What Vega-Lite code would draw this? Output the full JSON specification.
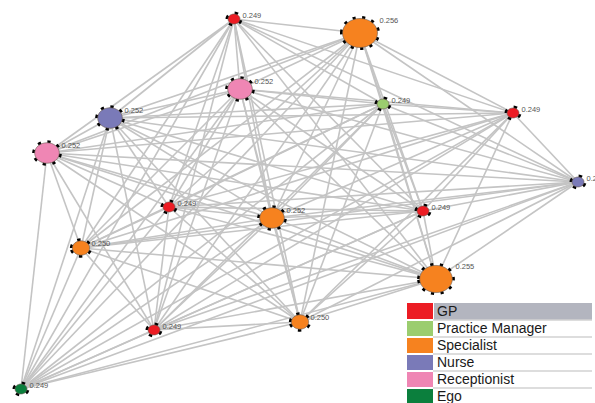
{
"$schema": "https://vega.github.io/schema/vega-lite/v6.json",
"width": 595, "height": 403, "padding": 0, "autosize": {"type": "none"},
"background": "white",
"config": {"view": {"stroke": null}},
"datasets": {
"nodes": [
{"id":1,"role":"GP","x":234,"y":19,"score":0.249},
{"id":2,"role":"Specialist","x":360,"y":33,"score":0.256},
{"id":3,"role":"Receptionist","x":240,"y":89,"score":0.252},
{"id":4,"role":"Nurse","x":110,"y":118,"score":0.252},
{"id":5,"role":"Practice Manager","x":383,"y":104,"score":0.249},
{"id":6,"role":"GP","x":513,"y":113,"score":0.249},
{"id":7,"role":"Receptionist","x":47,"y":153,"score":0.252},
{"id":8,"role":"Nurse","x":578,"y":182,"score":0.249},
{"id":9,"role":"GP","x":169,"y":207,"score":0.249},
{"id":10,"role":"Specialist","x":272,"y":218,"score":0.252},
{"id":11,"role":"GP","x":423,"y":211,"score":0.249},
{"id":12,"role":"Specialist","x":81,"y":248,"score":0.250},
{"id":13,"role":"Specialist","x":436,"y":279,"score":0.255},
{"id":14,"role":"Specialist","x":300,"y":322,"score":0.250},
{"id":15,"role":"GP","x":154,"y":330,"score":0.249},
{"id":16,"role":"Ego","x":21,"y":389,"score":0.249}
],
"edges": [
{"s":1,"t":2},{"s":1,"t":3},{"s":1,"t":4},{"s":1,"t":5},{"s":1,"t":6},{"s":1,"t":7},{"s":1,"t":8},{"s":1,"t":9},{"s":1,"t":10},{"s":1,"t":11},{"s":1,"t":12},{"s":1,"t":13},{"s":1,"t":14},{"s":1,"t":15},{"s":1,"t":16},
{"s":2,"t":3},{"s":2,"t":4},{"s":2,"t":5},{"s":2,"t":6},{"s":2,"t":7},{"s":2,"t":8},{"s":2,"t":9},{"s":2,"t":10},{"s":2,"t":11},{"s":2,"t":12},{"s":2,"t":13},{"s":2,"t":14},{"s":2,"t":15},{"s":2,"t":16},
{"s":3,"t":4},{"s":3,"t":5},{"s":3,"t":6},{"s":3,"t":7},{"s":3,"t":8},{"s":3,"t":9},{"s":3,"t":10},{"s":3,"t":11},{"s":3,"t":12},{"s":3,"t":13},{"s":3,"t":14},{"s":3,"t":15},{"s":3,"t":16},
{"s":4,"t":5},{"s":4,"t":6},{"s":4,"t":7},{"s":4,"t":8},{"s":4,"t":9},{"s":4,"t":10},{"s":4,"t":11},{"s":4,"t":12},{"s":4,"t":13},{"s":4,"t":14},{"s":4,"t":15},{"s":4,"t":16},
{"s":5,"t":6},{"s":5,"t":7},{"s":5,"t":8},{"s":5,"t":9},{"s":5,"t":10},{"s":5,"t":11},{"s":5,"t":12},{"s":5,"t":13},{"s":5,"t":14},{"s":5,"t":15},{"s":5,"t":16},
{"s":6,"t":7},{"s":6,"t":8},{"s":6,"t":9},{"s":6,"t":10},{"s":6,"t":11},{"s":6,"t":12},{"s":6,"t":13},{"s":6,"t":14},{"s":6,"t":15},{"s":6,"t":16},
{"s":7,"t":8},{"s":7,"t":9},{"s":7,"t":10},{"s":7,"t":11},{"s":7,"t":12},{"s":7,"t":13},{"s":7,"t":14},{"s":7,"t":15},{"s":7,"t":16},
{"s":8,"t":9},{"s":8,"t":10},{"s":8,"t":11},{"s":8,"t":12},{"s":8,"t":13},{"s":8,"t":14},{"s":8,"t":15},{"s":8,"t":16},
{"s":9,"t":10},{"s":9,"t":11},{"s":9,"t":12},{"s":9,"t":13},{"s":9,"t":14},{"s":9,"t":15},{"s":9,"t":16},
{"s":10,"t":11},{"s":10,"t":12},{"s":10,"t":13},{"s":10,"t":14},{"s":10,"t":15},{"s":10,"t":16},
{"s":11,"t":12},{"s":11,"t":13},{"s":11,"t":14},{"s":11,"t":15},{"s":11,"t":16},
{"s":12,"t":13},{"s":12,"t":14},{"s":12,"t":15},{"s":12,"t":16},
{"s":13,"t":14},{"s":13,"t":15},{"s":13,"t":16},
{"s":14,"t":15},{"s":14,"t":16},
{"s":15,"t":16}
],
"legend": [
{"role":"GP"},{"role":"Practice Manager"},{"role":"Specialist"},{"role":"Nurse"},{"role":"Receptionist"},{"role":"Ego"}
]
},
"layer": [
{
"layer": [
{
"data": {"name": "edges"},
"transform": [
{"lookup": "s", "from": {"data": {"values": [
{"id":1,"x":234,"y":19},{"id":2,"x":360,"y":33},{"id":3,"x":240,"y":89},{"id":4,"x":110,"y":118},{"id":5,"x":383,"y":104},{"id":6,"x":513,"y":113},{"id":7,"x":47,"y":153},{"id":8,"x":578,"y":182},{"id":9,"x":169,"y":207},{"id":10,"x":272,"y":218},{"id":11,"x":423,"y":211},{"id":12,"x":81,"y":248},{"id":13,"x":436,"y":279},{"id":14,"x":300,"y":322},{"id":15,"x":154,"y":330},{"id":16,"x":21,"y":389}
]}, "key": "id", "fields": ["x", "y"]}, "as": ["sx", "sy"]},
{"lookup": "t", "from": {"data": {"values": [
{"id":1,"x":234,"y":19},{"id":2,"x":360,"y":33},{"id":3,"x":240,"y":89},{"id":4,"x":110,"y":118},{"id":5,"x":383,"y":104},{"id":6,"x":513,"y":113},{"id":7,"x":47,"y":153},{"id":8,"x":578,"y":182},{"id":9,"x":169,"y":207},{"id":10,"x":272,"y":218},{"id":11,"x":423,"y":211},{"id":12,"x":81,"y":248},{"id":13,"x":436,"y":279},{"id":14,"x":300,"y":322},{"id":15,"x":154,"y":330},{"id":16,"x":21,"y":389}
]}, "key": "id", "fields": ["x", "y"]}, "as": ["tx", "ty"]}
],
"mark": {"type": "rule", "color": "#c4c4c4", "strokeWidth": 1.6},
"encoding": {
"x": {"field": "sx", "type": "quantitative", "scale": {"domain": [0, 595], "nice": false, "zero": false}, "axis": null},
"y": {"field": "sy", "type": "quantitative", "scale": {"domain": [0, 403], "nice": false, "zero": false, "reverse": true}, "axis": null},
"x2": {"field": "tx"},
"y2": {"field": "ty"}
}
},
{
"data": {"name": "nodes"},
"mark": {"type": "point", "shape": "M-1,0A1,0.83,0,1,1,1,0A1,0.83,0,1,1,-1,0Z", "filled": false, "stroke": "black", "strokeWidth": 5, "strokeDash": [3, 6], "opacity": 1},
"encoding": {
"x": {"field": "x", "type": "quantitative"},
"y": {"field": "y", "type": "quantitative"},
"size": {"field": "score", "type": "quantitative", "scale": {"type": "sqrt", "domain": [0.249, 0.256], "range": [144, 1225], "zero": false}, "legend": null}
}
},
{
"data": {"name": "nodes"},
"mark": {"type": "point", "shape": "M-1,0A1,0.83,0,1,1,1,0A1,0.83,0,1,1,-1,0Z", "filled": true, "opacity": 1, "stroke": "#6a5a50", "strokeWidth": 0.6},
"encoding": {
"x": {"field": "x", "type": "quantitative"},
"y": {"field": "y", "type": "quantitative"},
"size": {"field": "score", "type": "quantitative", "legend": null},
"color": {"field": "role", "type": "nominal", "scale": {"domain": ["GP", "Practice Manager", "Specialist", "Nurse", "Receptionist", "Ego"], "range": ["#ec1c24", "#9bcd6f", "#f6821f", "#7a7ab8", "#ef86b4", "#0b7f3d"]}, "legend": null}
}
},
{
"data": {"name": "nodes"},
"transform": [{"filter": {"field": "score", "equal": 0.249}}],
"mark": {"type": "text", "align": "left", "baseline": "middle", "dx": 8.5, "dy": -3.5, "fontSize": 7.5, "font": "Liberation Sans", "color": "#555555"},
"encoding": {"x": {"field": "x", "type": "quantitative"}, "y": {"field": "y", "type": "quantitative"}, "text": {"field": "score", "type": "quantitative", "format": ".3f"}}
},
{
"data": {"name": "nodes"},
"transform": [{"filter": {"field": "score", "equal": 0.25}}],
"mark": {"type": "text", "align": "left", "baseline": "middle", "dx": 10.5, "dy": -4.5, "fontSize": 7.5, "font": "Liberation Sans", "color": "#555555"},
"encoding": {"x": {"field": "x", "type": "quantitative"}, "y": {"field": "y", "type": "quantitative"}, "text": {"field": "score", "type": "quantitative", "format": ".3f"}}
},
{
"data": {"name": "nodes"},
"transform": [{"filter": {"field": "score", "equal": 0.252}}],
"mark": {"type": "text", "align": "left", "baseline": "middle", "dx": 14.5, "dy": -7, "fontSize": 7.5, "font": "Liberation Sans", "color": "#555555"},
"encoding": {"x": {"field": "x", "type": "quantitative"}, "y": {"field": "y", "type": "quantitative"}, "text": {"field": "score", "type": "quantitative", "format": ".3f"}}
},
{
"data": {"name": "nodes"},
"transform": [{"filter": {"field": "score", "gte": 0.254}}],
"mark": {"type": "text", "align": "left", "baseline": "middle", "dx": 19.5, "dy": -12, "fontSize": 7.5, "font": "Liberation Sans", "color": "#555555"},
"encoding": {"x": {"field": "x", "type": "quantitative"}, "y": {"field": "y", "type": "quantitative"}, "text": {"field": "score", "type": "quantitative", "format": ".3f"}}
}
]
},
{
"data": {"name": "legend"},
"encoding": {
"y": {"field": "role", "type": "nominal", "sort": null, "scale": {"domain": ["GP", "Practice Manager", "Specialist", "Nurse", "Receptionist", "Ego"], "range": [303, 405], "paddingInner": 0, "paddingOuter": 0}, "axis": null}
},
"layer": [
{"mark": {"type": "rect", "color": "white"}, "encoding": {"x": {"datum": 407, "type": "quantitative"}, "x2": {"datum": 592}}},
{"transform": [{"filter": {"field": "role", "equal": "GP"}}], "mark": {"type": "rect", "color": "#b3b5bf"}, "encoding": {"x": {"datum": 434, "type": "quantitative"}, "x2": {"datum": 592}}},
{"mark": {"type": "rect", "opacity": 1}, "encoding": {"x": {"datum": 407, "type": "quantitative"}, "x2": {"datum": 433}, "color": {"field": "role", "type": "nominal", "legend": null}}},
{"mark": {"type": "rule", "color": "white", "strokeWidth": 2}, "encoding": {"y": {"field": "role", "type": "nominal", "bandPosition": 1}, "x": {"datum": 407, "type": "quantitative"}, "x2": {"datum": 433}}},
{"mark": {"type": "rule", "color": "#d2d2d2", "strokeWidth": 1.5}, "encoding": {"y": {"field": "role", "type": "nominal", "bandPosition": 1}, "x": {"datum": 433, "type": "quantitative"}, "x2": {"datum": 592}}},
{"mark": {"type": "text", "align": "left", "baseline": "middle", "dx": 0, "dy": 0.5, "fontSize": 14, "font": "Liberation Sans", "color": "#1a1a1a"}, "encoding": {"x": {"datum": 437, "type": "quantitative"}, "text": {"field": "role", "type": "nominal"}}}
]
}
],
"resolve": {"scale": {"y": "independent"}}
}
